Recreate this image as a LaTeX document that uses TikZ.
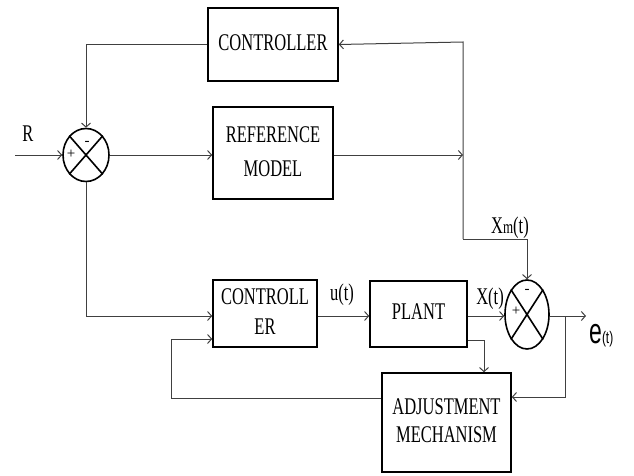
\documentclass[tikz,border=0pt]{standalone}
\usepackage{fontspec}
\usepackage{graphicx}
\setmainfont{Liberation Serif}
\newfontfamily\sansf{Liberation Sans}
\usetikzlibrary{arrows.meta,shapes.geometric}

% tall, narrow lettering used for every label
\newcommand\tallt[2][1]{\scalebox{1}[1.45]{\renewcommand\arraystretch{#1}\begin{tabular}{@{}c@{}}#2\end{tabular}}}

\begin{document}
\begin{tikzpicture}[x=1pt,y=-1pt,
  blk/.style={draw=black, line width=1.6pt, inner sep=0pt,
    font=\fontsize{16.5}{19.5}\selectfont},
  sumj/.style={draw=black, line width=1.6pt, ellipse, inner sep=0pt},
  con/.style={draw=black!75, line width=1pt},
  arr/.style={con, -{Straight Barb[length=4pt,width=9pt]}},
  lbl/.style={inner sep=0pt, font=\fontsize{16.5}{19.5}\selectfont},
  sgn/.style={inner sep=0pt, font=\fontsize{15}{16}\selectfont}]
\useasboundingbox (0,0) rectangle (634,476);

% blocks
\node[blk, minimum width=130, minimum height=73] (ctrl) at (273,44.5) {\tallt{CONTROLLER}};
\node[blk, minimum width=120, minimum height=92] (refm) at (273,153) {\tallt[1.2]{REFERENCE\\MODEL}};
\node[blk, minimum width=104, minimum height=67] (ctrlb) at (265,313.5) {\tallt[1.05]{CONTROLL\\ER}};
\node[blk, minimum width=97, minimum height=66] (plant) at (418.5,314) {\tallt{PLANT}};
\node[blk, minimum width=129, minimum height=99] (adj) at (446.5,422.5) {\tallt[1.0]{ADJUSTMENT\\MECHANISM}};

% summing junctions
\node[sumj, minimum width=46, minimum height=53] (sa) at (86,155) {};
\draw[line width=1.6pt] (sa.north west) -- (sa.south east) (sa.north east) -- (sa.south west);
\node[sumj, minimum width=44, minimum height=69] (sb) at (527,314.5) {};
\draw[line width=1.6pt] (sb.north west) -- (sb.south east) (sb.north east) -- (sb.south west);
\node[sgn] at (71,154) {+};
\node[sgn] at (87,143) {-};
\node[sgn] at (516,311) {+};
\node[sgn] at (527,291) {-};

% free ends and corners
\coordinate (rin) at (15,155);
\coordinate (tapm) at (463,155);
\coordinate (tapt) at (463,42);
\coordinate (xm) at (463,239);
\coordinate (eout) at (586,316);
\coordinate (ebr) at (565,316);

% input and reference loop
\draw[arr] (rin) -- (sa.west);
\node[lbl] at (28,136) {\tallt{R}};
\draw[arr] (ctrl.west) -- (sa.north |- ctrl.west) -- (sa.north);
\draw[arr] (sa.east) -- (refm.west |- sa.east);
\draw[arr] (refm.east |- tapm) -- (tapm);
\draw[arr] (xm) -- (tapt) -- (ctrl.east);
\draw[arr] (xm) -- (sb.north |- xm) -- (sb.north);
\node[lbl] at (510,228) {\tallt{X{\fontsize{13}{14}\selectfont m}(t)}};

% plant loop
\draw[arr] (sa.south) |- ([yshift=-2.5pt]ctrlb.west);
\draw[arr] ([yshift=-2.5pt]ctrlb.east) -- ([yshift=-2pt]plant.west);
\node[lbl] at (342,295) {\tallt{u(t)}};
\draw[arr] ([yshift=-2pt]plant.east) -- (sb.west |- ebr);
\node[lbl] at (490,299) {\tallt{X(t)}};
\draw[arr] (sb.east |- ebr) -- (eout);
\node[anchor=base west, inner sep=0pt] at (589,343)
  {\sansf\scalebox{1}[1.55]{\fontsize{23}{23}\selectfont e}\scalebox{1}[1.4]{\fontsize{12}{12}\selectfont (t)}};
\draw[arr] ([yshift=-26pt]plant.east) -| ([xshift=37.5pt]adj.north);
\draw[arr] (ebr) |- ([yshift=25.5pt]adj.east);
\draw[arr] ([yshift=24.5pt]adj.west) -| ([xshift=-41pt,yshift=-25.5pt]ctrlb.west) -- ([yshift=-25.5pt]ctrlb.west);
\end{tikzpicture}
\end{document}
